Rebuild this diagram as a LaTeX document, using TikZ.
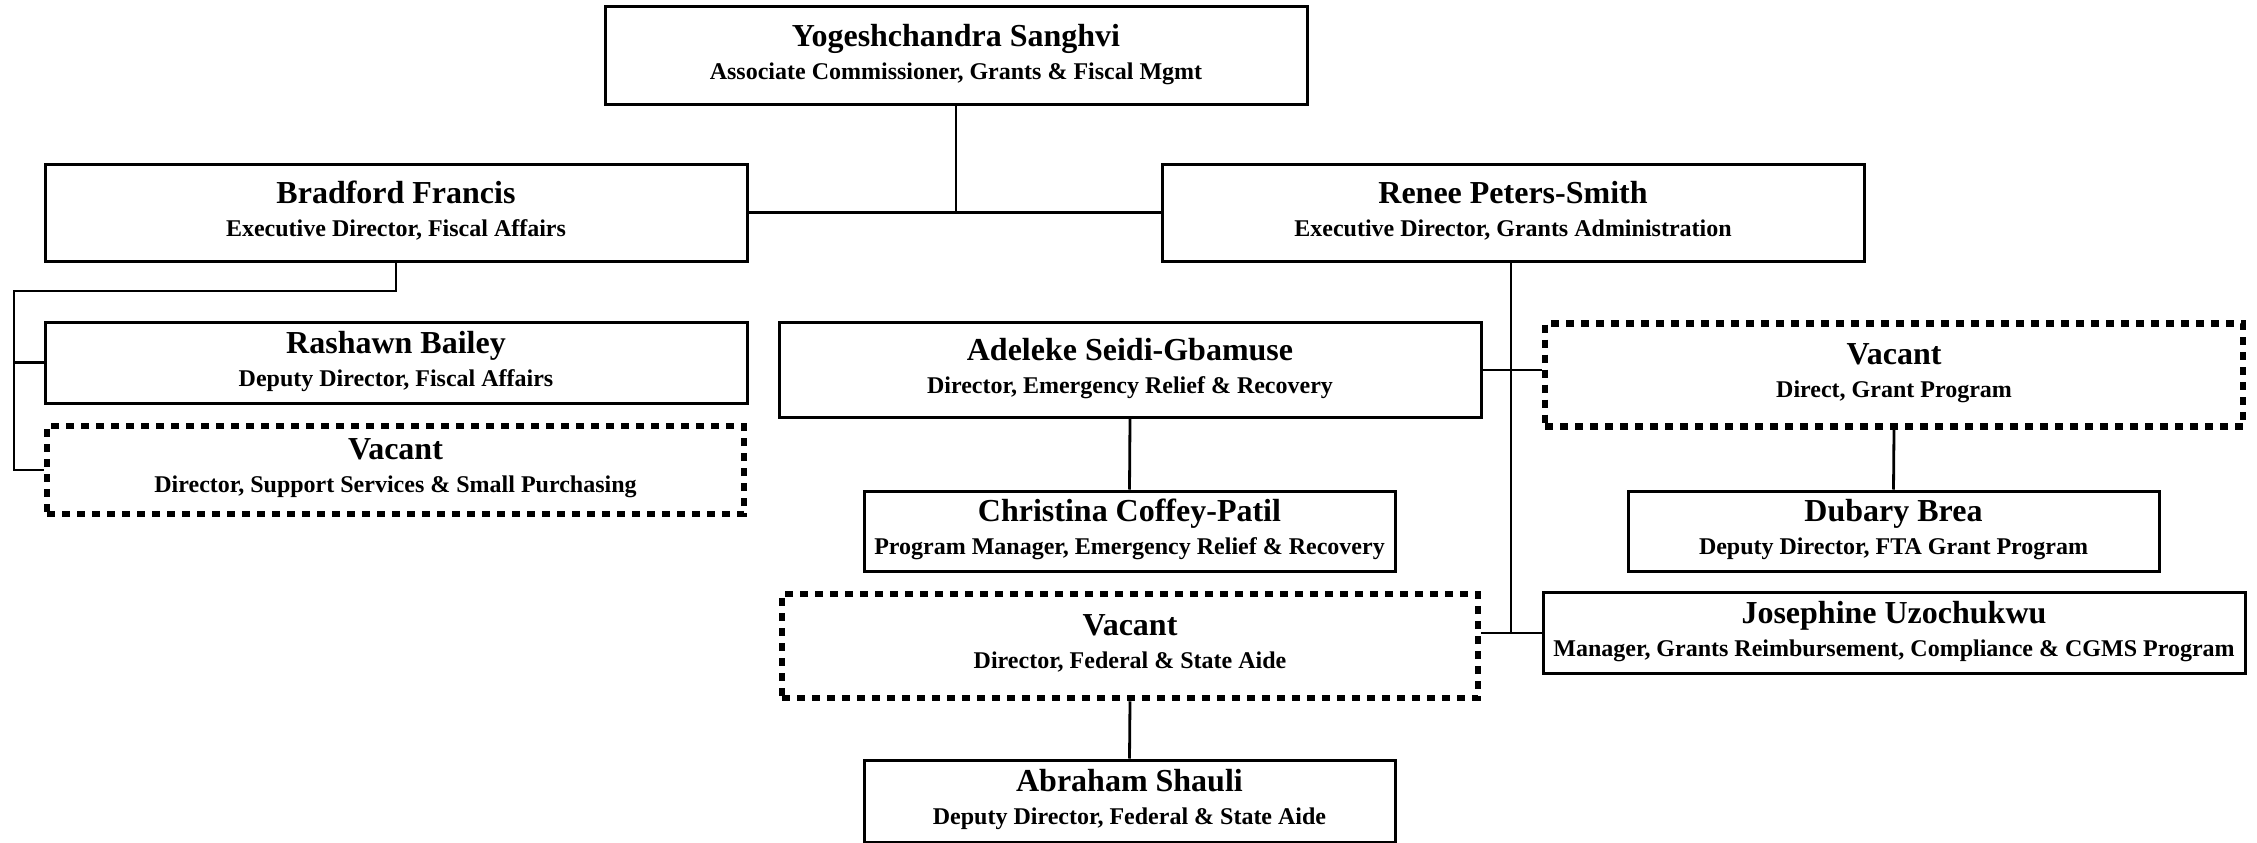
\documentclass[tikz,border=0pt]{standalone}
\usepackage{fontspec}
\setmainfont{Liberation Serif}
\newcommand{\nmfont}{\fontsize{32}{36}\selectfont\bfseries}
\newcommand{\ttlfont}{\fontsize{24}{33}\selectfont\bfseries}
\newcommand{\lowstrut}{\rule[-8pt]{0pt}{8pt}}
\begin{document}
\begin{tikzpicture}[x=1pt,y=-1pt,
  box/.style={draw=black,line width=3pt,fill=white,align=center,font=\ttlfont,inner sep=0pt},
  vbox/.style={draw=black,line width=6.5pt,dash pattern=on 8pt off 7pt,fill=white,align=center,font=\ttlfont,inner sep=0pt},
  conn/.style={draw=black,line width=2.8pt}]
\useasboundingbox (0,0) rectangle (2257,843);
\fill[white] (0,0) rectangle (2257,843);

\node[box,minimum width=702pt,minimum height=97pt] (top) at (956,55.5)
  {{\nmfont Yogeshchandra Sanghvi}\\Associate Commissioner, Grants \& Fiscal Mgmt\lowstrut};
\node[box,minimum width=702pt,minimum height=97pt] (brad) at (396,212.5)
  {{\nmfont Bradford Francis}\\Executive Director, Fiscal Affairs\lowstrut};
\node[box,minimum width=702pt,minimum height=97pt] (renee) at (1513,212.5)
  {{\nmfont Renee Peters-Smith}\\Executive Director, Grants Administration\lowstrut};
\node[box,minimum width=702pt,minimum height=81pt] (rash) at (396,362.5)
  {{\nmfont Rashawn Bailey}\\Deputy Director, Fiscal Affairs\lowstrut};
\node[vbox,minimum width=697pt,minimum height=88pt] (vac1) at (395.5,470)
  {{\nmfont Vacant}\\Director, Support Services \& Small Purchasing\lowstrut};
\node[box,minimum width=702pt,minimum height=95pt] (adel) at (1130,370)
  {{\nmfont Adeleke Seidi-Gbamuse}\\Director, Emergency Relief \& Recovery\lowstrut};
\node[vbox,minimum width=698pt,minimum height=103pt] (vac2) at (1894,375)
  {{\nmfont Vacant}\\Direct, Grant Program\lowstrut};
\node[box,minimum width=531pt,minimum height=80pt] (chris) at (1129.5,531)
  {{\nmfont Christina Coffey-Patil}\\Program Manager, Emergency Relief \& Recovery\lowstrut};
\node[box,minimum width=531pt,minimum height=80pt] (dub) at (1893.5,531)
  {{\nmfont Dubary Brea}\\Deputy Director, FTA Grant Program\lowstrut};
\node[vbox,minimum width=696pt,minimum height=104pt] (vac3) at (1130,646)
  {{\nmfont Vacant}\\Director, Federal \& State Aide\lowstrut};
\node[box,minimum width=702pt,minimum height=81pt] (jos) at (1894,633)
  {{\nmfont Josephine Uzochukwu}\\Manager, Grants Reimbursement, Compliance \& CGMS Program\lowstrut};
\node[box,minimum width=531pt,minimum height=82pt] (abr) at (1129.5,801)
  {{\nmfont Abraham Shauli}\\Deputy Director, Federal \& State Aide\lowstrut};

\coordinate (tj) at (956,212.5);
\coordinate (bj) at (396,291);
\coordinate (bl) at (14,291);
\coordinate (rv) at (1511,632);

\draw[conn] (top.south) -- (tj);
\draw[conn] (brad.east) -- (renee.west);
\draw[conn] (brad.south) -- (bj) -- (bl) -- (bl |- vac1.west) -- (vac1.west);
\draw[conn] (bl |- rash.west) -- (rash.west);
\draw[conn] (renee.south -| rv) -- (rv);
\draw[conn] (adel.east) -- (vac2.west |- adel.east);
\draw[conn] (adel.south) -- (chris.north);
\draw[conn] (vac2.south) -- (dub.north);
\draw[conn] (vac3.east |- jos.west) -- (jos.west);
\draw[conn] (vac3.south) -- (abr.north);
\end{tikzpicture}
\end{document}
